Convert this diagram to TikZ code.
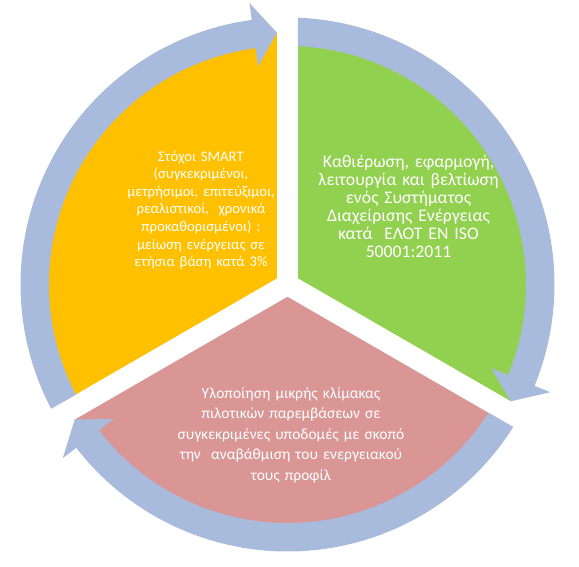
\documentclass[tikz,border=0pt]{standalone}
\usepackage{fontspec}
\setmainfont{Carlito}
\definecolor{orangeC}{HTML}{FFC000}
\definecolor{greenC}{HTML}{92D050}
\definecolor{pinkC}{HTML}{D99694}
\definecolor{ringC}{HTML}{A9BBDC}
\tikzset{
  sectortext/.style={text=white, align=center, inner sep=0pt, font=\fontsize{14.67}{17.6}\selectfont},
  gapline/.style={white, line width=21pt},
  ringarrow/.style={fill=ringC}
}
\begin{document}
\begin{tikzpicture}[x=1pt,y=1pt]
\useasboundingbox (-287.5,-281.5) rectangle (291.5,284.5);
% pie sectors
\fill[orangeC] (0,0) -- (90:252) arc[start angle=90,end angle=210,radius=252] -- cycle;
\fill[greenC] (0,0) -- (-30:252) arc[start angle=-30,end angle=90,radius=252] -- cycle;
\fill[pinkC] (0,0) -- (210:252) arc[start angle=210,end angle=330,radius=252] -- cycle;
% white gaps
\foreach \a in {90,210,330} \draw[gapline] (0,0) -- (\a:285);
% circular arrows
\foreach \r in {0,-120,-240}{
  \begin{scope}[rotate=\r]
  \fill[ringarrow] ({210-asin(10.5/238.5)}:238.5) -- ({210-asin(10.5/267)}:267)
    arc[start angle={210-asin(10.5/267)}, end angle=97.7, radius=267]
    -- (97.7:284) -- ({90+asin(10.5/252)}:252) -- (97.7:220) -- (97.7:238.5)
    arc[start angle=97.7, end angle={210-asin(10.5/238.5)}, radius=238.5] -- cycle;
  \end{scope}
}
% texts
\node[sectortext, text width=160pt] (goal) at (-86.5,74.5) {Στόχοι SMART\\(συγκεκριμένοι,\\μετρήσιμοι, επιτεύξιμοι,\\ρεαλιστικοί,\ \ χρονικά\\προκαθορισμένοι) :\\μείωση ενέργειας σε\\ετήσια βάση κατά 3\%};
\node[sectortext, text width=230pt, font=\fontsize{17.7}{18}\selectfont] (ems) at (121,78.5) {Καθιέρωση, εφαρμογή,\\λειτουργία και βελτίωση\\ενός Συστήματος\\Διαχείρισης Ενέργειας\\κατά\ \ ΕΛΟΤ EN ISO\\50001:2011};
\node[sectortext, text width=280pt, font=\fontsize{15.5}{20.4}\selectfont] (pilot) at (3.5,-150.5) {Υλοποίηση μικρής κλίμακας\\πιλοτικών παρεμβάσεων σε\\συγκεκριμένες υποδομές με σκοπό\\την\ \ αναβάθμιση του ενεργειακού\\τους προφίλ};
\end{tikzpicture}
\end{document}
